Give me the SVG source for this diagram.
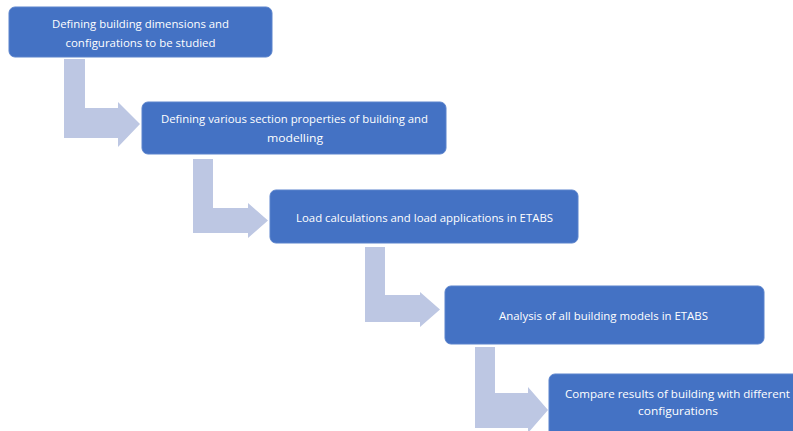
<svg xmlns="http://www.w3.org/2000/svg" width="793" height="431" viewBox="0 0 793 431">
<style>
.box{fill:#4472C4;stroke:#5A83CC;stroke-width:1}
.arr{fill:#BDC7E3}
text{font-family:"Open Sans","Liberation Sans",sans-serif;font-size:11.5px;fill:#FFFFFF;text-anchor:middle;dominant-baseline:central}
</style>
<rect width="793" height="431" fill="#FFFFFF"/>
<g id="connectors">
<path class="arr" d="M64,59 H85 V108 H118 V102 L140,124 L118,147 V138 H64 Z"/>
<path class="arr" d="M193,159 H213 V208 H248 V203 L268,220.5 L248,238 V233 H193 Z"/>
<path class="arr" d="M365,247 H385 V295 H420 V292 L440,309.5 L420,327 V322 H365 Z"/>
<path class="arr" d="M475,347 H495 V393 H528 V387 L548,410 L528,433 V428 H475 Z"/>
</g>
<g id="node1">
<rect class="box" x="9" y="7" width="263" height="50" rx="6"/>
<text x="140.5" y="23" textLength="177" lengthAdjust="spacingAndGlyphs">Defining building dimensions and</text>
<text x="140.5" y="42" textLength="150" lengthAdjust="spacingAndGlyphs">configurations to be studied</text>
</g>
<g id="node2">
<rect class="box" x="142" y="102" width="304" height="52" rx="6"/>
<text x="294.5" y="118" textLength="267" lengthAdjust="spacingAndGlyphs">Defining various section properties of building and</text>
<text x="295" y="137" textLength="56" lengthAdjust="spacingAndGlyphs">modelling</text>
</g>
<g id="node3">
<rect class="box" x="270" y="190" width="308" height="53" rx="6"/>
<text x="424.5" y="217" textLength="257" lengthAdjust="spacingAndGlyphs">Load calculations and load applications in ETABS</text>
</g>
<g id="node4">
<rect class="box" x="445" y="286" width="319" height="58" rx="6"/>
<text x="603.5" y="315" textLength="209" lengthAdjust="spacingAndGlyphs">Analysis of all building models in ETABS</text>
</g>
<g id="node5">
<rect class="box" x="549" y="374" width="260" height="70" rx="6"/>
<text x="677.5" y="393" textLength="225" lengthAdjust="spacingAndGlyphs">Compare results of building  with different</text>
<text x="678" y="410" textLength="80" lengthAdjust="spacingAndGlyphs">configurations</text>
</g>
</svg>
